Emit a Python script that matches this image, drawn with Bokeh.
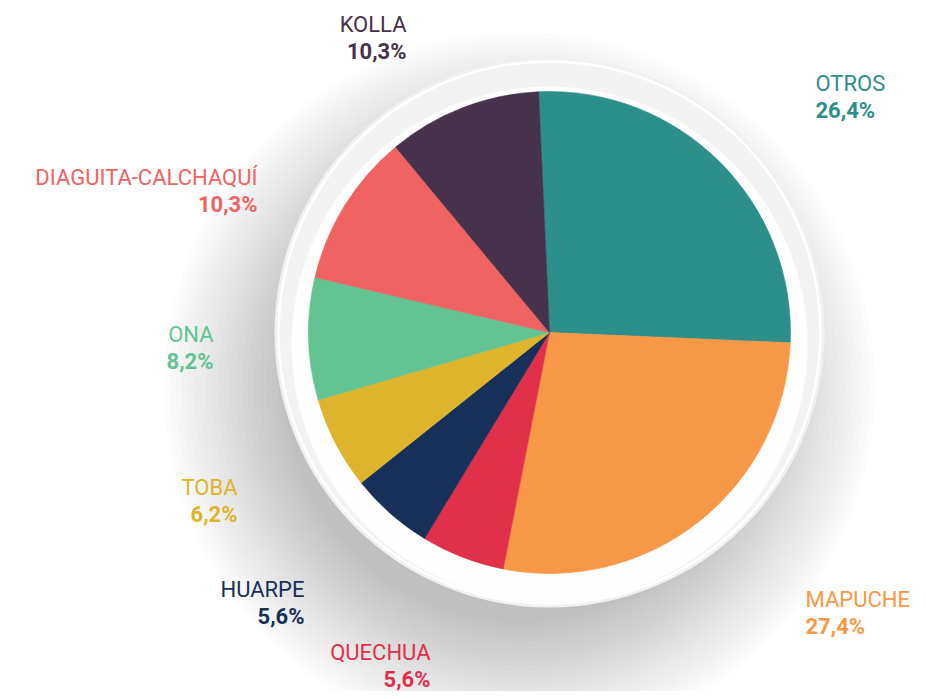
import math
from bokeh.plotting import figure
from bokeh.models import Range1d
from bokeh.core.properties import value
from bokeh.embed import file_html
from bokeh.resources import INLINE

# ---- data ----
categories = ["OTROS", "MAPUCHE", "QUECHUA", "HUARPE", "TOBA", "ONA", "DIAGUITA-CALCHAQUÍ", "KOLLA"]
shares = [26.4, 27.4, 5.6, 5.6, 6.2, 8.2, 10.3, 10.3]
pct_labels = ["26,4%", "27,4%", "5,6%", "5,6%", "6,2%", "8,2%", "10,3%", "10,3%"]

# ---- style / layout ----
colors = ["#2c8f89", "#f79846", "#e0304a", "#17305a", "#deb42c", "#63c392", "#f06363", "#46324b"]
W, H = 910, 691
CX, CY = 549, H - 332          # pie centre (plot coords, y up)
R_PIE = 241
R_PLATE = 275
START_DEG = 92.6               # first slice starts just left of 12 o'clock, runs clockwise
# label anchors relative to pie centre (dx right, dy down), alignment
label_offsets = [(266, -236, "left"), (256, 280, "left"), (-119, 333, "right"), (-245, 270, "right"),
                 (-312, 168, "right"), (-336, 15, "right"), (-292, -142, "right"), (-143, -295, "right")]
LINE_GAP = 13.5
FONT_SIZE = "22px"

p = figure(width=W, height=H, x_range=Range1d(0, W), y_range=Range1d(0, H),
           output_backend="svg", toolbar_location=None, min_border=0,
           background_fill_color="white", border_fill_color="white")
p.axis.visible = False
p.grid.visible = False
p.outline_line_color = None

# soft shadow under the plate (offset to lower-left)
shadow_r = list(range(236, 360, 6))
p.circle(x=[CX - 30] * len(shadow_r), y=[CY - 55] * len(shadow_r), radius=shadow_r,
         fill_color="black", fill_alpha=0.012, line_color=None)

# plate
p.circle(x=[CX], y=[CY], radius=[R_PLATE], fill_color="#f1f1f1", line_color=None)
p.circle(x=[CX], y=[CY], radius=[R_PLATE - 4], fill_color="#f3f3f3", line_color="#ffffff", line_width=2.5)
p.circle(x=[CX], y=[CY - 12], radius=[R_PLATE - 17], fill_color="#ffffff", fill_alpha=0.85, line_color=None)

# wedges
total = sum(shares)
starts, ends = [], []
a = math.radians(START_DEG)
for s in shares:
    span = s / total * 2 * math.pi
    ends.append(a)
    starts.append(a - span)
    a -= span

p.wedge(x=[CX] * len(shares), y=[CY] * len(shares), radius=R_PIE,
        start_angle=starts, end_angle=ends, direction="anticlock",
        fill_color=colors, line_color=colors, line_width=0.6)

# labels
for cat, pct, col, (dx, dy, al) in zip(categories, pct_labels, colors, label_offsets):
    x = CX + dx
    y = CY - dy
    p.text(x=[x], y=[y + LINE_GAP], text=[cat], text_color=col, text_font=value("Roboto"),
           text_font_size=FONT_SIZE, text_align=al, text_baseline="middle")
    p.text(x=[x], y=[y - LINE_GAP], text=[pct], text_color=col, text_font=value("Roboto"),
           text_font_size=FONT_SIZE, text_font_style="bold", text_align=al, text_baseline="middle")

open("out.html", "w").write(file_html(p, INLINE))
